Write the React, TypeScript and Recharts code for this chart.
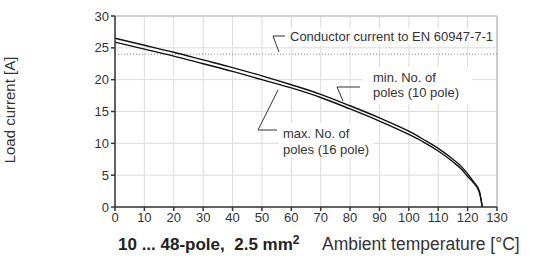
import React from "react";
import {
  LineChart,
  Line,
  XAxis,
  YAxis,
  CartesianGrid,
  ReferenceLine,
} from "recharts";

// ambient temperature [°C]
const temps = [0, 10, 20, 30, 40, 50, 60, 70, 80, 90, 100, 105, 110, 115, 118, 120, 122, 124, 125];
// min. No. of poles (10 pole)
const minPoles = [26.5, 25.4, 24.3, 23.1, 21.9, 20.6, 19.2, 17.7, 15.9, 14.0, 11.9, 10.6, 9.2, 7.5, 6.3, 5.2, 4.0, 2.5, 0];
// max. No. of poles (16 pole)
const maxPoles = [25.9, 24.8, 23.7, 22.5, 21.3, 20.0, 18.7, 17.2, 15.4, 13.5, 11.4, 10.2, 8.8, 7.1, 5.9, 4.8, 3.8, 2.3, 0];
const conductorCurrent = 24;

const xTicks = [0, 10, 20, 30, 40, 50, 60, 70, 80, 90, 100, 110, 120, 130];
const yTicks = [0, 5, 10, 15, 20, 25, 30];

const data = temps.map((t, i) => ({ t, min: minPoles[i], max: maxPoles[i] }));

const FONT = "'Liberation Sans', Arial, sans-serif";
const TEXT = "#333";

export default function App() {
  return (
    <div style={{ position: "absolute", left: 0, top: 0, width: 542, height: 262, background: "#fff" }}>
      <LineChart
        width={542}
        height={262}
        data={data}
        margin={{ top: 16, right: 45, bottom: 35, left: 75 }}
      >
        <CartesianGrid stroke="#dcdcdc" strokeWidth={1} />
        <XAxis
          dataKey="t"
          type="number"
          domain={[0, 130]}
          ticks={xTicks}
          height={20}
          tickSize={4}
          stroke="#333"
          strokeWidth={1.5}
          tick={{ fill: TEXT, fontSize: 13, fontFamily: FONT }}
          interval={0}
        />
        <YAxis
          type="number"
          domain={[0, 30]}
          ticks={yTicks}
          width={40}
          tickSize={4}
          stroke="#333"
          strokeWidth={1.5}
          tick={{ fill: TEXT, fontSize: 13, fontFamily: FONT }}
          interval={0}
        />
        <ReferenceLine x={130} stroke="#c4c4c4" strokeWidth={1.5} />
        <ReferenceLine y={30} stroke="#c4c4c4" strokeWidth={1.5} />
        <ReferenceLine y={conductorCurrent} stroke="#888" strokeDasharray="1 2" />
        <Line
          dataKey="min"
          type="monotone"
          stroke="#111"
          strokeWidth={1.4}
          dot={false}
          isAnimationActive={false}
        />
        <Line
          dataKey="max"
          type="monotone"
          stroke="#111"
          strokeWidth={1.4}
          dot={false}
          isAnimationActive={false}
        />
      </LineChart>

      <svg
        width={542}
        height={262}
        style={{ position: "absolute", left: 0, top: 0, pointerEvents: "none" }}
        fontFamily={FONT}
      >
        {/* label boxes hide the grid behind the text */}
        <rect x={286} y={28} width={210} height={17} fill="#fff" />
        <rect x={363} y={67} width={109} height={37} fill="#fff" />
        <rect x={279} y={123} width={94} height={34} fill="#fff" />

        <g stroke="#333" strokeWidth={1} fill="none">
          <path d="M285,36 L273,36 L279,52" />
          <path d="M360,87 L337,87 L343,101" />
          <path d="M277,130 L258,130 L278,90" />
        </g>

        <g fill={TEXT} fontSize={13}>
          <text x={290} y={41}>Conductor current to EN 60947-7-1</text>
          <text x={373} y={81.5}>min. No. of</text>
          <text x={373} y={97}>poles (10 pole)</text>
          <text x={283} y={138}>max. No. of</text>
          <text x={283} y={153.5}>poles (16 pole)</text>
        </g>

        <text
          transform="translate(15,110) rotate(-90)"
          textAnchor="middle"
          fill={TEXT}
          fontSize={15}
        >
          Load current [A]
        </text>

        <text x={118} y={250} fill="#222" fontSize={17} fontWeight="bold">
          10 ... 48-pole,{"\u00a0 "}2.5 mm
          <tspan fontSize={12} dy={-6}>2</tspan>
        </text>
        <text x={322} y={250} fill={TEXT} fontSize={17.5}>
          Ambient temperature [°C]
        </text>
      </svg>
    </div>
  );
}
